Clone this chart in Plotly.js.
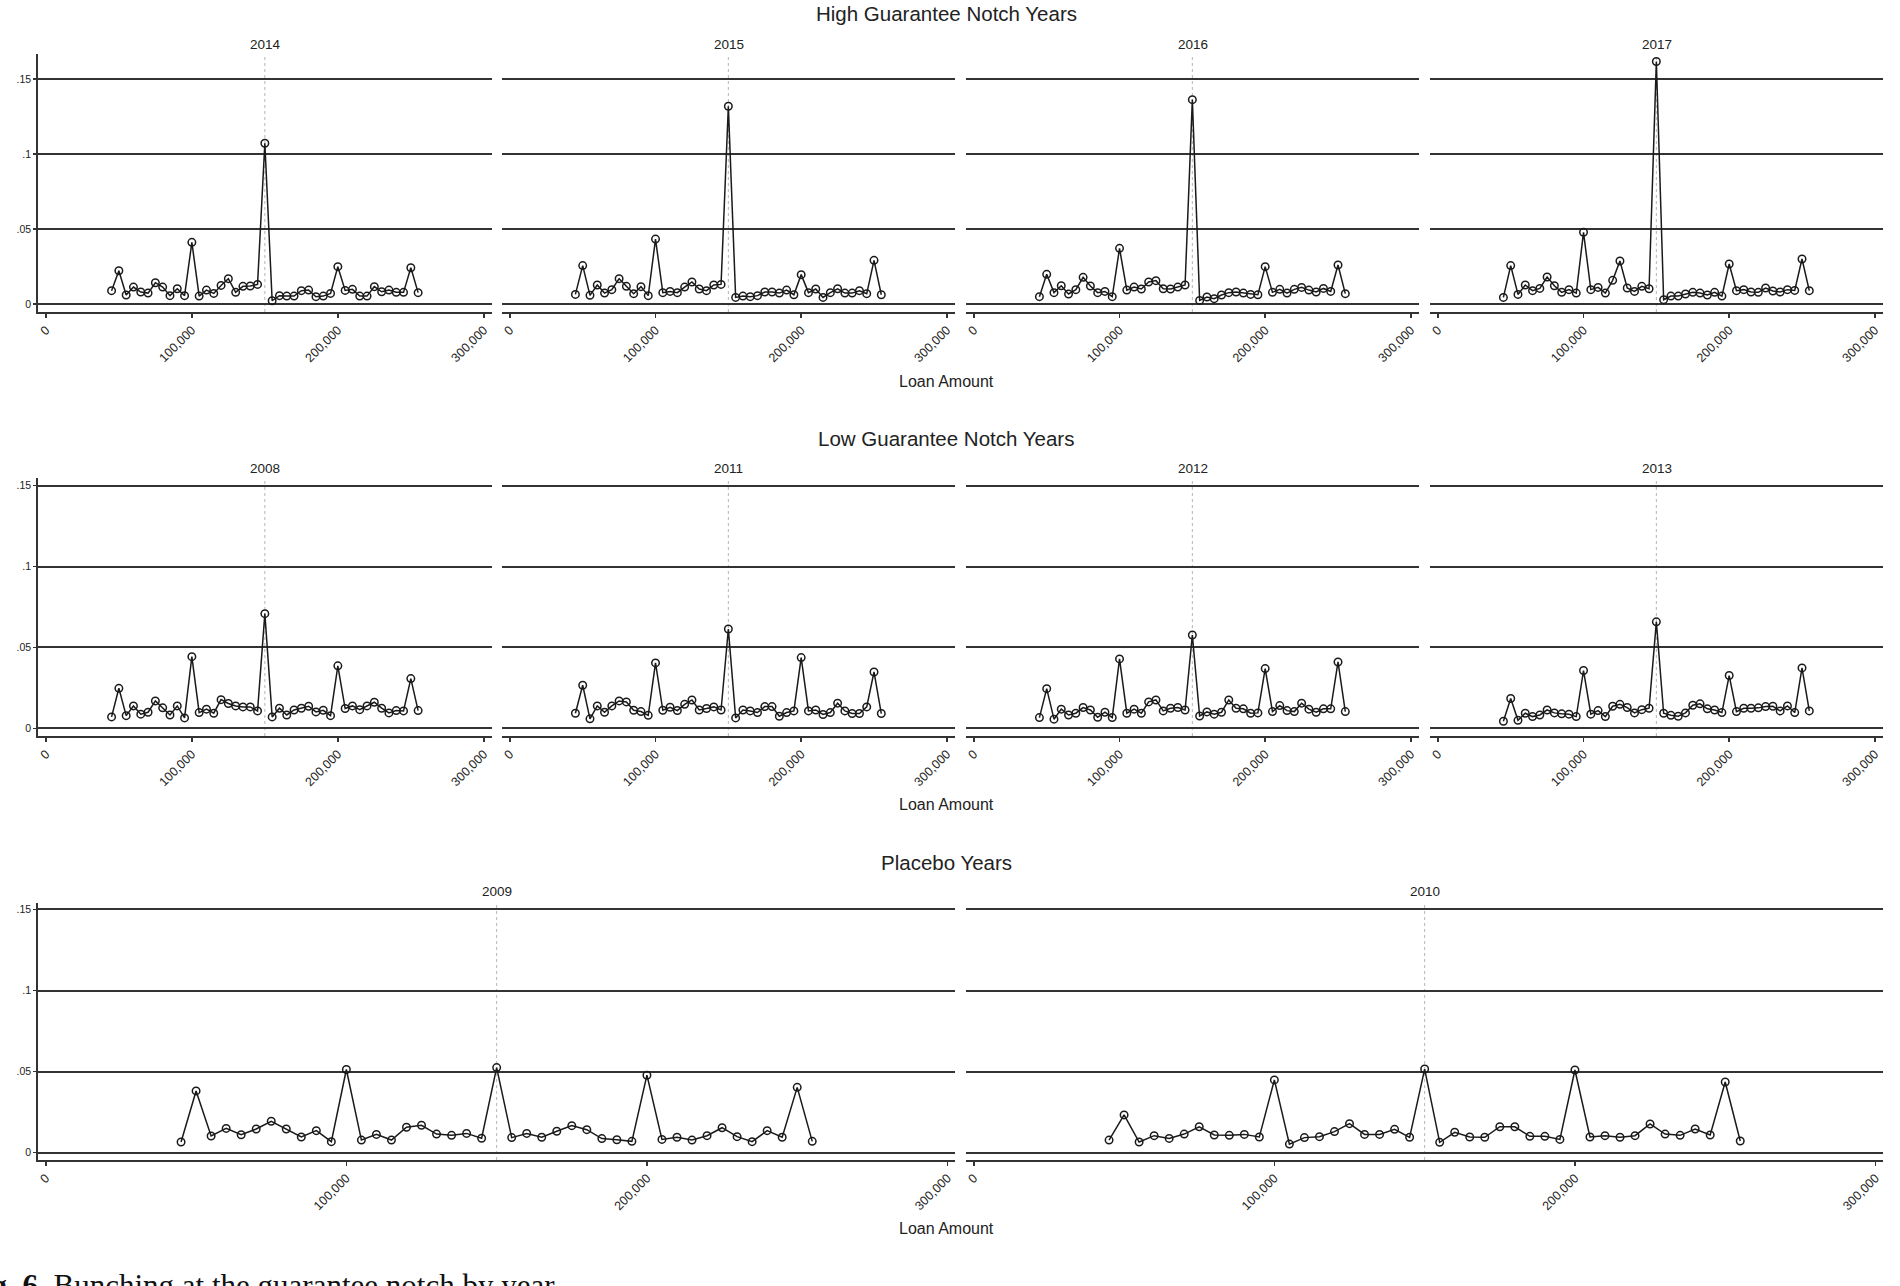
<!DOCTYPE html>
<html>
<head>
<meta charset="utf-8">
<script src="https://cdn.plot.ly/plotly-3.0.1.min.js"></script>
<style>html,body{margin:0;padding:0;background:#fff;}#chart{width:1900px;height:1286px;}</style>
</head>
<body>
<div id="chart"></div>
<script>
// ---------- DATA ----------
const loanAmounts = [45000,50000,55000,60000,65000,70000,75000,80000,85000,90000,95000,100000,105000,110000,115000,120000,125000,130000,135000,140000,145000,150000,155000,160000,165000,170000,175000,180000,185000,190000,195000,200000,205000,210000,215000,220000,225000,230000,235000,240000,245000,250000,255000];

const share2014 = [.0089,.0222,.0060,.0113,.0080,.0073,.0142,.0113,.0056,.0102,.0056,.0411,.0053,.0093,.0071,.0124,.0169,.0078,.0118,.0120,.0131,.1071,.0022,.0056,.0053,.0053,.0089,.0093,.0049,.0053,.0071,.0249,.0091,.0098,.0053,.0053,.0116,.0082,.0093,.0078,.0078,.0242,.0076];
const share2015 = [.0064,.0256,.0058,.0127,.0073,.0096,.0169,.0118,.0069,.0116,.0056,.0433,.0076,.0084,.0076,.0113,.0147,.0100,.0089,.0127,.0131,.1318,.0044,.0053,.0049,.0056,.0080,.0080,.0073,.0093,.0062,.0196,.0076,.0100,.0044,.0076,.0102,.0073,.0073,.0089,.0069,.0291,.0062];
const share2016 = [.0049,.0198,.0076,.0122,.0067,.0096,.0178,.0120,.0076,.0084,.0049,.0371,.0093,.0113,.0100,.0147,.0156,.0102,.0100,.0113,.0127,.1362,.0024,.0047,.0036,.0060,.0076,.0080,.0073,.0064,.0062,.0249,.0078,.0098,.0073,.0098,.0111,.0093,.0080,.0104,.0084,.0260,.0069];
const share2017 = [.0044,.0256,.0064,.0127,.0089,.0104,.0180,.0122,.0078,.0096,.0073,.0478,.0096,.0111,.0073,.0158,.0287,.0107,.0084,.0118,.0102,.1616,.0029,.0053,.0053,.0067,.0078,.0073,.0060,.0078,.0053,.0267,.0089,.0096,.0080,.0078,.0107,.0087,.0080,.0096,.0091,.0300,.0089];
const share2008 = [.0070,.0247,.0078,.0138,.0087,.0099,.0169,.0126,.0082,.0138,.0064,.0443,.0097,.0118,.0093,.0177,.0153,.0138,.0132,.0132,.0107,.0709,.0070,.0124,.0082,.0113,.0124,.0136,.0101,.0111,.0078,.0386,.0122,.0138,.0115,.0138,.0161,.0124,.0095,.0109,.0107,.0307,.0109];
const share2011 = [.0093,.0266,.0058,.0138,.0099,.0138,.0169,.0163,.0111,.0103,.0080,.0404,.0111,.0130,.0109,.0148,.0175,.0113,.0122,.0132,.0113,.0614,.0064,.0113,.0107,.0097,.0134,.0134,.0074,.0097,.0107,.0437,.0107,.0113,.0085,.0097,.0155,.0107,.0091,.0091,.0132,.0348,.0091];
const share2012 = [.0066,.0245,.0056,.0118,.0082,.0093,.0128,.0113,.0068,.0099,.0066,.0429,.0093,.0118,.0093,.0163,.0175,.0107,.0124,.0128,.0113,.0577,.0076,.0101,.0087,.0099,.0175,.0124,.0120,.0093,.0095,.0369,.0103,.0140,.0109,.0103,.0155,.0118,.0099,.0120,.0120,.0410,.0103];
const share2013 = [.0043,.0184,.0049,.0093,.0072,.0082,.0113,.0095,.0089,.0087,.0072,.0357,.0087,.0109,.0072,.0136,.0148,.0128,.0095,.0115,.0124,.0658,.0093,.0080,.0074,.0095,.0142,.0151,.0120,.0113,.0097,.0326,.0103,.0124,.0124,.0126,.0134,.0136,.0107,.0138,.0097,.0373,.0107];
const share2009 = [.0066,.0381,.0103,.0150,.0111,.0146,.0194,.0146,.0097,.0136,.0068,.0513,.0078,.0113,.0078,.0157,.0169,.0115,.0107,.0119,.0089,.0525,.0093,.0119,.0095,.0132,.0167,.0142,.0087,.0080,.0070,.0478,.0082,.0095,.0078,.0105,.0154,.0099,.0068,.0136,.0095,.0403,.0070];
const share2010 = [.0078,.0233,.0066,.0105,.0088,.0115,.0160,.0109,.0107,.0113,.0097,.0449,.0053,.0093,.0099,.0130,.0179,.0113,.0113,.0144,.0095,.0516,.0064,.0126,.0097,.0095,.0160,.0160,.0101,.0101,.0082,.0510,.0097,.0105,.0095,.0105,.0177,.0115,.0107,.0146,.0109,.0436,.0072];

const notchAmount = 150000;
const xTickVals = [0, 100000, 200000, 300000];
const xTickText = ['0', '100,000', '200,000', '300,000'];
const yTickVals = [0, 0.05, 0.1, 0.15];
const yTickText = ['0', '.05', '.1', '.15'];

const groupTitles = ['High Guarantee Notch Years', 'Low Guarantee Notch Years', 'Placebo Years'];
const xAxisTitle = 'Loan Amount';
const captionText = '<b>Fig. 6.</b> Bunching at the guarantee notch by year.';

// ---------- LAYOUT GEOMETRY ----------
const W = 1900, H = 1286;
const fx = v => v / W;
const fy = v => 1 - v / H;

const colsFour = [[38,492],[502,955],[966,1419],[1430,1883]];
const colsTwo = [[38,955],[966,1883]];
const rowsGeom = [
  {top:54, bottom:312, yr:[-0.0053,0.1666], xr:[-5400,305600], titleY:14, panelTitleY:45, xTitleY:381},
  {top:478, bottom:736, yr:[-0.0048,0.1548], xr:[-5400,305600], titleY:438, panelTitleY:468, xTitleY:804},
  {top:903, bottom:1160, yr:[-0.0045,0.1540], xr:[-2600,302500], titleY:862, panelTitleY:892, xTitleY:1228}
];

const panels = [
  {year:'2014', data:share2014, row:0, col:colsFour[0], first:true},
  {year:'2015', data:share2015, row:0, col:colsFour[1], first:false},
  {year:'2016', data:share2016, row:0, col:colsFour[2], first:false},
  {year:'2017', data:share2017, row:0, col:colsFour[3], first:false},
  {year:'2008', data:share2008, row:1, col:colsFour[0], first:true},
  {year:'2011', data:share2011, row:1, col:colsFour[1], first:false},
  {year:'2012', data:share2012, row:1, col:colsFour[2], first:false},
  {year:'2013', data:share2013, row:1, col:colsFour[3], first:false},
  {year:'2009', data:share2009, row:2, col:colsTwo[0], first:true},
  {year:'2010', data:share2010, row:2, col:colsTwo[1], first:false}
];

const FONT = '"Liberation Sans", Arial, Helvetica, sans-serif';
const INK = '#222222';
const traces = [];
const layout = {
  width: W, height: H,
  margin: {l:0, r:0, t:0, b:0},
  paper_bgcolor: '#ffffff',
  plot_bgcolor: '#ffffff',
  showlegend: false,
  font: {family: FONT, color: INK, size: 10},
  annotations: [],
  shapes: []
};

panels.forEach((p, i) => {
  const n = i + 1;
  const xa = n === 1 ? 'xaxis' : 'xaxis' + n;
  const ya = n === 1 ? 'yaxis' : 'yaxis' + n;
  const xr = n === 1 ? 'x' : 'x' + n;
  const yrf = n === 1 ? 'y' : 'y' + n;
  const g = rowsGeom[p.row];

  traces.push({
    type: 'scatter', mode: 'lines+markers',
    x: loanAmounts, y: p.data,
    xaxis: xr, yaxis: yrf,
    line: {color: '#1a1a1a', width: 1.5},
    marker: {symbol: 'circle-open', size: 7.5, color: '#1a1a1a', line: {width: 1.5, color: '#1a1a1a'}},
    cliponaxis: false,
    hoverinfo: 'x+y'
  });

  layout[xa] = {
    domain: [fx(p.col[0]), fx(p.col[1])],
    anchor: yrf,
    range: g.xr,
    tickvals: xTickVals, ticktext: xTickText,
    tickangle: -45,
    tickfont: {size: 12.5, color: INK, family: FONT},
    ticks: 'outside', ticklen: 4, tickwidth: 1.4, tickcolor: '#333',
    showline: true, linecolor: '#333', linewidth: 1.8,
    showgrid: false, zeroline: false, fixedrange: true
  };
  layout[ya] = {
    domain: [fy(g.bottom), fy(g.top)],
    anchor: xr,
    range: g.yr,
    tickvals: yTickVals, ticktext: yTickText,
    tickfont: {size: 10.5, color: INK, family: FONT},
    showticklabels: p.first,
    ticks: p.first ? 'outside' : '', ticklen: 3, tickwidth: 1.4, tickcolor: '#333',
    showline: p.first, linecolor: '#333', linewidth: 1.8,
    showgrid: true, gridcolor: '#333333', gridwidth: 2,
    zeroline: false, fixedrange: true
  };

  layout.shapes.push({
    type: 'line', layer: 'below',
    xref: xr, yref: yrf + ' domain',
    x0: notchAmount, x1: notchAmount, y0: 0, y1: 1,
    line: {color: '#b5b5b5', width: 1, dash: 'dot'}
  });

  layout.annotations.push({
    text: p.year, xref: 'paper', yref: 'paper',
    x: fx((p.col[0] + p.col[1]) / 2), y: fy(g.panelTitleY),
    xanchor: 'center', yanchor: 'middle', showarrow: false,
    font: {size: 13.5, color: INK, family: FONT}
  });
});

rowsGeom.forEach((g, r) => {
  layout.annotations.push({
    text: groupTitles[r], xref: 'paper', yref: 'paper',
    x: fx(946), y: fy(g.titleY), xanchor: 'center', yanchor: 'middle', showarrow: false,
    font: {size: 20.5, color: INK, family: FONT}
  });
  layout.annotations.push({
    text: xAxisTitle, xref: 'paper', yref: 'paper',
    x: fx(946), y: fy(g.xTitleY), xanchor: 'center', yanchor: 'middle', showarrow: false,
    font: {size: 16, color: INK, family: FONT}
  });
});

layout.annotations.push({
  text: captionText, xref: 'paper', yref: 'paper',
  x: fx(-38), y: fy(1266), xanchor: 'left', yanchor: 'top', showarrow: false,
  font: {size: 31, color: '#111', family: '"Liberation Serif", "DejaVu Serif", serif'}
});

Plotly.newPlot('chart', traces, layout, {displayModeBar: false, staticPlot: true});
</script>
</body>
</html>
